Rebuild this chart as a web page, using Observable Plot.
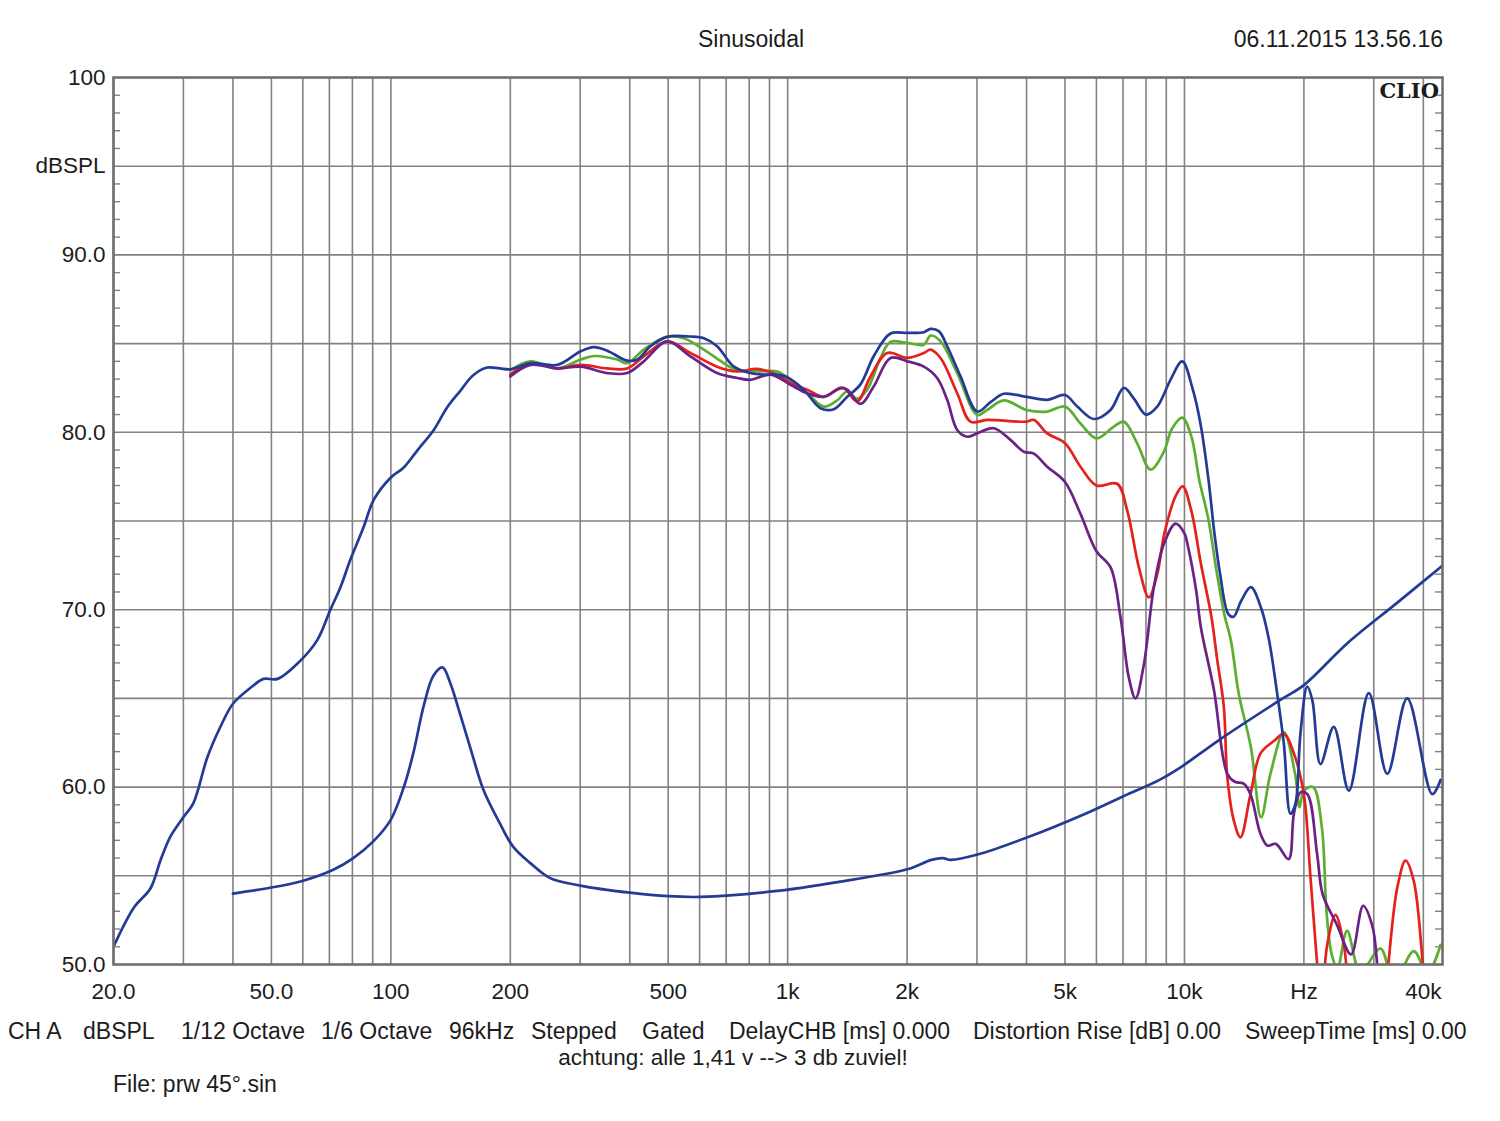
<!DOCTYPE html>
<html>
<head>
<meta charset="utf-8">
<script src="https://cdn.jsdelivr.net/npm/d3@7"></script>
<script src="https://cdn.jsdelivr.net/npm/@observablehq/plot@0.6"></script>
<style>
  html, body { margin: 0; padding: 0; background: #fff; }
  #wrap { position: relative; width: 1500px; height: 1121px; font-family: "Liberation Sans", Arial, sans-serif; color: #1c1c1c; overflow: hidden; }
  #wrap svg { position: absolute; left: 0; top: 0; }
  .t { position: absolute; white-space: nowrap; line-height: 1; font-size: 22.5px; transform: translateY(-50%); }
  .c { transform: translate(-50%, -50%); }
  .r { transform: translate(-100%, -50%); }
  #clio { font-family: "DejaVu Serif", "Liberation Serif", serif; font-weight: bold; font-size: 21px; }
</style>
</head>
<body>
<div id="wrap"></div>
<script>
// ---- axis / grid definitions ----
const xGridHz = [20,30,40,50,60,70,80,90,100,200,300,400,500,600,700,800,900,1000,2000,3000,4000,5000,6000,7000,8000,9000,10000,20000,30000,40000];
const xTickHz = [20,50,100,200,500,1000,2000,5000,10000,20000,40000];
const xTickText = ["20.0","50.0","100","200","500","1k","2k","5k","10k","Hz","40k"];
const yGridDb = [55,60,65,70,75,80,85,90,95];
const yTickDb = [50,60,70,80,90,95,100];
const yTickText = ["50.0","60.0","70.0","80.0","90.0","dBSPL","100"];
const yMinorDb = d3.range(51,100).filter(d => d % 5 !== 0);

// ---- series: [frequency Hz, dBSPL] ----
const resp0 = [[20,51.0],[22.5,53.2],[24.8,54.3],[26.3,55.9],[27.8,57.2],[30,58.3],[31.8,59.1],[34.5,61.7],[37.2,63.4],[40,64.7],[44.3,65.6],[47.8,66.1],[51.8,66.1],[59,67.1],[65.3,68.3],[70.4,70.0],[74.6,71.25],[79,72.8],[85.2,74.6],[90.6,76.2],[100,77.45],[107.6,78.0],[116.8,79.0],[128,80.1],[138.6,81.4],[149.8,82.35],[161,83.2],[175,83.65],[188,83.6],[200,83.55],[225,83.9],[263,83.8],[301,84.57],[325,84.8],[351,84.6],[394,84.04],[418,84.1],[451,84.85],[497,85.38],[569,85.4],[615,85.3],[664,84.85],[732,83.7],[806,83.34],[871,83.25],[941,83.25],[997,83.1],[1098,82.4],[1210,81.36],[1307,81.3],[1413,82.0],[1526,82.7],[1649,84.3],[1816,85.57],[2001,85.6],[2204,85.64],[2291,85.83],[2404,85.7],[2524,84.85],[2727,83.15],[3004,81.17],[3245,81.7],[3505,82.17],[4000,82.0],[4509,81.83],[5000,82.1],[5368,81.45],[5910,80.75],[6510,81.26],[7036,82.5],[7456,81.9],[8000,81.0],[8538,81.45],[9222,82.96],[9870,84.0],[10500,82.4],[11000,80.36],[11500,77.3],[11900,74.3],[12300,72.0],[12900,69.75],[13300,69.6],[13900,70.5],[14700,71.27],[15600,70.1],[16300,68.4],[17120,65.3],[17800,62.45],[18500,58.5],[19040,59.06],[19600,63.0],[20390,65.66],[21000,64.9],[22020,61.3],[23790,63.4],[25960,59.8],[29150,65.3],[32440,60.75],[36420,65.0],[42100,59.6],[44200,60.4]];

const resp15 = [[200,83.5],[225,84.0],[263,83.6],[301,84.1],[325,84.3],[372,84.1],[394,83.9],[434,84.66],[497,85.4],[547,85.3],[615,84.66],[690,83.9],[746,83.5],[838,83.43],[941,83.43],[1017,82.96],[1120,82.2],[1234,81.45],[1333,81.8],[1413,82.3],[1497,81.9],[1586,82.4],[1714,84.2],[1816,85.1],[2000,85.04],[2204,84.94],[2291,85.45],[2428,85.13],[2675,83.34],[3004,80.98],[3182,81.26],[3505,81.8],[4000,81.26],[4509,81.17],[5000,81.45],[5470,80.5],[6000,79.66],[6637,80.32],[7036,80.6],[7600,79.38],[8212,77.9],[8872,78.9],[9300,80.2],[9870,80.83],[10400,79.8],[10900,77.3],[11500,75.06],[12000,72.4],[12600,69.75],[13100,68.24],[13700,65.28],[14700,62.26],[15600,58.3],[16470,60.75],[17800,63.1],[19000,60.75],[19500,58.87],[20000,59.8],[21100,60.0],[22200,57.7],[22800,53.0],[23500,50.57],[24300,49.8],[25700,51.9],[27770,49.6],[31190,50.9],[33700,49.0],[37840,50.75],[40900,49.5],[44200,51.1]];

const resp30 = [[200,83.25],[225,83.9],[263,83.6],[301,83.8],[351,83.6],[394,83.6],[434,84.28],[497,85.13],[569,84.47],[664,83.7],[746,83.43],[838,83.57],[941,83.25],[1017,82.77],[1120,82.4],[1234,82.0],[1333,82.4],[1386,82.5],[1497,81.74],[1617,83.15],[1782,84.47],[2001,84.2],[2204,84.47],[2291,84.66],[2428,84.19],[2675,82.2],[2890,80.6],[3182,80.7],[4000,80.6],[4172,80.7],[4509,79.94],[5000,79.38],[5470,78.06],[6000,77.0],[6768,77.1],[7172,75.6],[7674,72.4],[8132,70.7],[8538,72.0],[8900,74.3],[9500,76.4],[9900,76.95],[10400,75.6],[11000,72.6],[11700,69.56],[12090,67.2],[12570,64.5],[12820,60.6],[13320,58.1],[13840,57.17],[14670,59.6],[15550,61.9],[16800,62.6],[17800,63.0],[18870,61.9],[19990,59.6],[20780,54.9],[21600,50.0],[22100,47.5],[22890,51.1],[24020,52.8],[25220,51.1],[25700,49.5],[27000,46],[31000,46],[32440,49.5],[34360,54.3],[36080,55.85],[37840,54.7],[40120,49.5],[42000,46],[44700,46]];

const resp45 = [[200,83.15],[225,83.8],[263,83.6],[301,83.7],[351,83.34],[394,83.34],[434,84.0],[497,85.13],[569,84.28],[664,83.34],[746,83.06],[806,82.96],[905,83.25],[1017,82.68],[1120,82.2],[1234,82.0],[1359,82.5],[1413,82.4],[1526,81.6],[1649,82.6],[1816,84.19],[2001,84.0],[2204,83.7],[2381,83.06],[2524,81.83],[2675,80.13],[2836,79.75],[3004,79.94],[3307,80.23],[3644,79.57],[3937,78.9],[4172,78.8],[4509,78.06],[5000,77.2],[5470,75.4],[6000,73.3],[6510,72.4],[6900,69.57],[7242,66.17],[7528,65.0],[7900,66.9],[8372,71.26],[8872,73.7],[9500,74.85],[10000,74.3],[10200,73.6],[10700,71.1],[11000,69.0],[11860,65.5],[12820,60.75],[13400,60.3],[14100,60.2],[14670,59.6],[15550,57.36],[16200,56.7],[17000,56.8],[18300,55.94],[18870,58.5],[19600,59.7],[20400,59.6],[21600,56.2],[22300,53.96],[24200,52.26],[26300,50.57],[28200,53.3],[29800,52.1],[30600,50.0],[31500,47],[34000,45],[44700,45]];

const impedance = [[40,54.0],[48.9,54.3],[59.2,54.68],[71.6,55.34],[80.4,56.0],[90.3,56.94],[100,58.17],[108,60.05],[114,61.94],[121,64.58],[128,66.28],[135,66.75],[141,65.9],[150,64.0],[159,62.13],[171,59.87],[188,57.98],[203,56.66],[225,55.7],[252,54.87],[300,54.45],[400,54.05],[500,53.85],[603,53.81],[942,54.15],[1472,54.8],[2014,55.38],[2302,55.9],[2462,56.0],[2575,55.9],[3011,56.2],[4023,57.17],[5628,58.5],[7038,59.5],[8603,60.38],[9800,61.13],[12200,62.64],[17400,64.9],[20000,65.75],[25700,68.1],[34400,70.4],[44500,72.45]];

const seriesColors = { resp0: "#233b95", resp15: "#5cae30", resp30: "#e5211d", resp45: "#6c2187", impedance: "#233b95" };

const toRows = (arr, name) => arr.map(([f, db]) => ({f, db, name}));

const gridColor = "#828282";
const plotW = 1500 - 113 - 58;
const lineW = 2.7;
const curve = "catmull-rom";

const chart = Plot.plot({
  width: 1500,
  height: 1121,
  marginLeft: 113,
  marginRight: 58,
  marginTop: 77,
  marginBottom: 157,
  x: { type: "log", domain: [20, 44700] },
  y: { domain: [50, 100] },
  style: { fontFamily: "'Liberation Sans', Arial, sans-serif", fontSize: "22.5px", color: "#1c1c1c", background: "transparent", overflow: "visible" },
  marks: [
    Plot.gridX(xGridHz, { stroke: gridColor, strokeOpacity: 1, strokeWidth: 1.6 }),
    Plot.gridY(yGridDb, { stroke: gridColor, strokeOpacity: 1, strokeWidth: 1.6 }),
    Plot.tickY(yMinorDb, { y: d => d, insetRight: plotW - 7, stroke: gridColor, strokeWidth: 1.4 }),
    Plot.tickY(yMinorDb, { y: d => d, insetLeft: plotW - 7, stroke: gridColor, strokeWidth: 1.4 }),
    Plot.axisX(xTickHz, { tickSize: 0, tickPadding: 19, tickFormat: d => xTickText[xTickHz.indexOf(d)], label: null }),
    Plot.axisY(yTickDb, { tickSize: 0, tickPadding: 8, tickFormat: d => yTickText[yTickDb.indexOf(d)], label: null }),
    Plot.line(toRows(resp15, "resp15"), { x: "f", y: "db", stroke: seriesColors.resp15, strokeWidth: lineW, curve, clip: true }),
    Plot.line(toRows(resp30, "resp30"), { x: "f", y: "db", stroke: seriesColors.resp30, strokeWidth: lineW, curve, clip: true }),
    Plot.line(toRows(resp45, "resp45"), { x: "f", y: "db", stroke: seriesColors.resp45, strokeWidth: lineW, curve, clip: true }),
    Plot.line(toRows(resp0, "resp0"), { x: "f", y: "db", stroke: seriesColors.resp0, strokeWidth: lineW, curve, clip: true }),
    Plot.line(toRows(impedance, "impedance"), { x: "f", y: "db", stroke: seriesColors.impedance, strokeWidth: lineW, curve, clip: true }),
    Plot.frame({ stroke: "#6f6f6f", strokeWidth: 2.6 })
  ]
});

const wrap = document.getElementById("wrap");
wrap.appendChild(chart);

function addText(txt, x, y, cls, id, size) {
  const d = document.createElement("div");
  d.className = "t" + (cls ? " " + cls : "");
  if (id) d.id = id;
  d.textContent = txt;
  d.style.left = x + "px";
  d.style.top = y + "px";
  if (size) d.style.fontSize = size + "px";
  wrap.appendChild(d);
  return d;
}
addText("Sinusoidal", 751, 39, "c", null, 23);
addText("06.11.2015 13.56.16", 1443, 39, "r", null, 23);
addText("CLIO", 1439, 90, "r", "clio");

// measurement settings line (text items and their left edges in the page)
const infoItems = ["CH A", "dBSPL", "1/12 Octave", "1/6 Octave", "96kHz", "Stepped", "Gated", "DelayCHB [ms] 0.000", "Distortion Rise [dB] 0.00", "SweepTime [ms] 0.00"];
const infoLeft = [8, 83, 181, 321, 449, 531, 642, 729, 973, 1245];
infoItems.forEach((s, i) => addText(s, infoLeft[i], 1031, "", null, 23));

addText("achtung: alle 1,41 v --> 3 db zuviel!", 733, 1058, "c");
addText("File: prw 45°.sin", 113, 1084, "", null, 23);
</script>
</body>
</html>
